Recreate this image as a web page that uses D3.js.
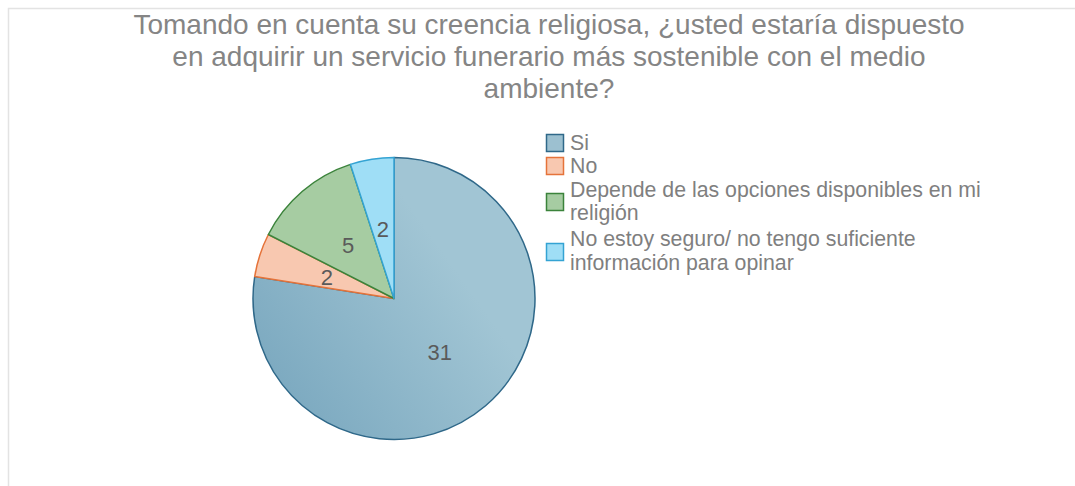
<!DOCTYPE html>
<html><head><meta charset="utf-8">
<script src="https://cdn.jsdelivr.net/npm/d3@7"></script>
<style>body{margin:0;background:#fff}svg{display:block}text{font-family:"Liberation Sans",Arial,sans-serif}</style>
</head><body>
<svg id="c" width="1075" height="486"></svg>
<script>
const titleLines = ["Tomando en cuenta su creencia religiosa, ¿usted estaría dispuesto","en adquirir un servicio funerario más sostenible con el medio","ambiente?"];
const categories = ["Si","No","Depende de las opciones disponibles en mi religión","No estoy seguro/ no tengo suficiente información para opinar"];
const legendLines = [["Si"],["No"],["Depende de las opciones disponibles en mi","religión"],["No estoy seguro/ no tengo suficiente","información para opinar"]];
const values = [31,2,5,2];
const fills = ["url(#gSi)","#f8c8b0","#a6cca2","#9fdef6"];
const strokes = ["#2f6889","#e5733a","#3b833b","#34a3d3"];

const svg = d3.select("#c");
const defs = svg.append("defs");
const cx=394, cy=298.5, r=141;
const g = defs.append("linearGradient").attr("id","gSi").attr("gradientUnits","userSpaceOnUse")
  .attr("x1",260-cx).attr("y1",440-cy).attr("x2",470-cx).attr("y2",290-cy);
g.append("stop").attr("offset",0).attr("stop-color","#75a4bc");
g.append("stop").attr("offset",1).attr("stop-color","#a1c5d4");

// frame
svg.append("path").attr("d","M8.5,486 V8.5 H1075").attr("fill","none").attr("stroke","#e3e3e3").attr("stroke-width",1.5);

// title
svg.append("text").attr("text-anchor","middle").attr("fill","#858585").attr("font-size",28)
  .selectAll("tspan").data(titleLines).join("tspan")
  .attr("x",549).attr("y",(d,i)=>34+i*32).text(d=>d);

const pie = d3.pie().sort(null).value(d=>d);
const arcs = pie(values);
const arc = d3.arc().innerRadius(0).outerRadius(r);
const pg = svg.append("g").attr("transform",`translate(${cx},${cy})`);
pg.selectAll("path").data(arcs).join("path")
  .attr("d",arc).attr("fill",(d,i)=>fills[i])
  .attr("stroke",(d,i)=>strokes[i]).attr("stroke-width",1.5).attr("stroke-linejoin","round");
pg.selectAll("text").data(arcs).join("text")
  .attr("transform",d=>`translate(${arc.centroid(d)})`)
  .attr("text-anchor","middle").attr("dy","0.36em")
  .attr("font-size",22).attr("fill","#5a5a5a").text(d=>d.data);

// legend
const lg = svg.append("g");
const tops = [134,157,193,243];
const textY = [[150],[173],[197,220],[246,270]];
categories.forEach((c,i)=>{
  lg.append("rect").attr("x",546.5).attr("y",tops[i]+0.5).attr("width",17).attr("height",17)
    .attr("fill",i===0?"#9cc0d0":fills[i]).attr("stroke",strokes[i]).attr("stroke-width",1.5);
  legendLines[i].forEach((t,j)=>{
    lg.append("text").attr("x",570).attr("y",textY[i][j]).attr("font-size",21.3).attr("fill","#7f7f7f").text(t);
  });
});
</script>
</body></html>
